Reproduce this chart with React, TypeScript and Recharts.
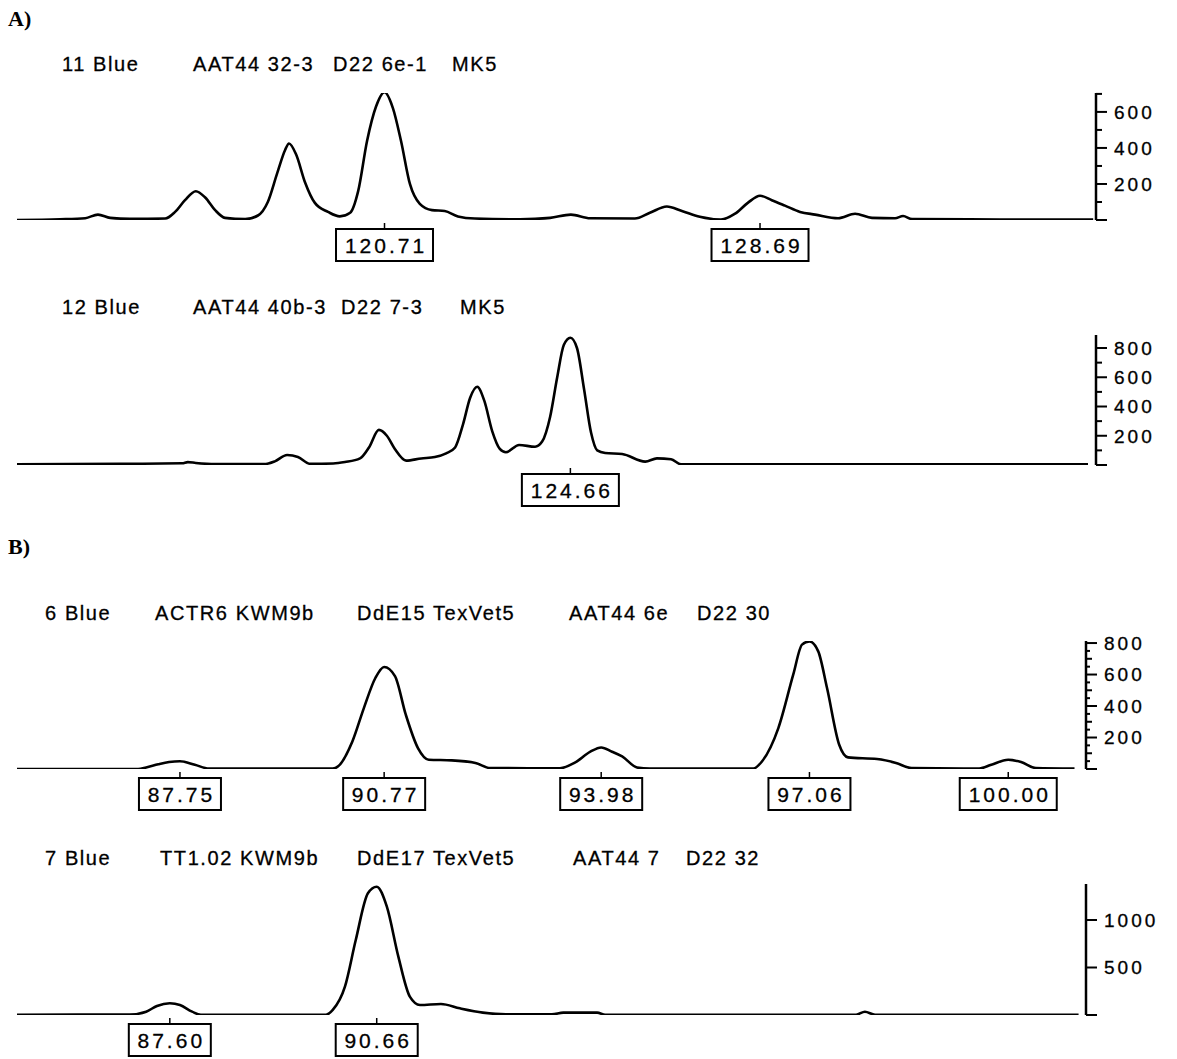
import React from "react";
import { Line, LineChart, XAxis, YAxis } from "recharts";

// ---- lane 11 (panel A, upper trace) ----
const lane11Size = [
  112.9, 113.81, 114.35, 114.62, 114.88, 115.3, 116.05, 116.26, 116.47, 116.7, 116.9, 117.11, 117.32,
  117.75, 118.02, 118.23, 118.43, 118.6, 118.68, 118.83, 119.02, 119.23, 119.51, 119.76, 119.98, 120.15,
  120.34, 120.53, 120.71, 120.89, 121.06, 121.25, 121.46, 121.72, 121.99, 122.27, 122.63, 123.59, 124.23,
  124.67, 125.08, 126.03, 126.35, 126.71, 127.03, 127.41, 127.86, 128.16, 128.43, 128.69, 128.94, 129.22,
  129.54, 129.86, 130.35, 130.71, 131.07, 131.56, 131.73, 131.92, 133.79, 135.77,
];
const lane11Rfu = [
  0, 4, 10, 30, 12, 6, 8, 45, 110, 160, 125, 55, 12,
  5, 25, 100, 260, 390, 425, 365, 210, 95, 45, 20, 40, 160,
  440, 630, 710, 620, 440, 200, 90, 55, 50, 20, 8, 4, 12,
  30, 10, 8, 40, 75, 50, 18, 3, 35, 95, 135, 110, 80,
  45, 30, 10, 35, 12, 10, 22, 5, 3, 3,
];
const lane11Calls = [120.71, 128.69];

// ---- lane 12 (panel A, lower trace) ----
const lane12Size = [
  112.9, 115.09, 116.41, 116.53, 116.7, 117.11, 118.15, 118.38, 118.64, 118.87, 119.13, 119.62, 119.87,
  120.19, 120.38, 120.59, 120.76, 120.93, 121.17, 121.49, 121.78, 122.02, 122.21, 122.38, 122.53, 122.68,
  122.83, 123.0, 123.16, 123.29, 123.57, 123.91, 124.06, 124.23, 124.38, 124.52, 124.66, 124.8, 124.95,
  125.1, 125.23, 125.4, 125.76, 126.25, 126.5, 126.8, 127.01, 135.66,
];
const lane12Rfu = [
  5, 8, 12, 20, 14, 6, 6, 25, 68, 55, 8, 10, 20,
  45, 120, 240, 200, 110, 30, 45, 55, 80, 120, 280, 460, 535,
  440, 230, 110, 87, 137, 125, 160, 330, 600, 820, 870, 800, 520,
  220, 100, 82, 75, 23, 45, 39, 5, 5,
];
const lane12Calls = [124.66];

// ---- lane 6 (panel B, upper trace) ----
const lane6Size = [
  85.34, 87.13, 87.25, 87.43, 87.59, 87.75, 87.97, 88.18, 90.01, 90.09, 90.3, 90.47, 90.64,
  90.77, 90.93, 91.09, 91.27, 91.43, 91.77, 92.12, 92.34, 93.37, 93.59, 93.82, 93.98, 94.14,
  94.29, 94.51, 94.7, 96.23, 96.36, 96.6, 96.82, 96.95, 97.06, 97.19, 97.32, 97.5, 97.63,
  98.06, 98.34, 98.57, 99.57, 99.75, 100.0, 100.19, 100.41, 100.98,
];
const lane6Rfu = [
  0, 0, 10, 30, 44, 49, 27, 3, 3, 17, 175, 387, 578,
  648, 590, 345, 133, 59, 55, 38, 6, 5, 40, 110, 137, 110,
  80, 10, 3, 3, 49, 260, 599, 790, 810, 747, 514, 154, 74,
  63, 38, 6, 3, 27, 59, 44, 6, 3,
];
const lane6Calls = [87.75, 90.77, 93.98, 97.06, 100.0];

// ---- lane 7 (panel B, lower trace) ----
const lane7Size = [
  85.34, 87.01, 87.25, 87.41, 87.6, 87.75, 87.93, 88.06, 89.91, 90.01, 90.19, 90.35, 90.53,
  90.66, 90.81, 90.98, 91.15, 91.3, 91.61, 91.89, 92.23, 92.57, 93.25, 93.42, 93.92, 94.04,
  97.75, 97.88, 98.03, 101.04,
];
const lane7Rfu = [
  3, 5, 35, 95, 123, 105, 35, 3, 3, 53, 298, 789, 1281,
  1350, 1140, 614, 193, 105, 116, 70, 25, 7, 7, 25, 25, 3,
  3, 35, 3, 3,
];
const lane7Calls = [87.6, 90.66];

// size windows and RFU scales
const panelASizeRange: [number, number] = [112.9, 135.83];
const panelBSizeRange: [number, number] = [85.34, 101.15];

const lane11Ticks = [0, 100, 200, 300, 400, 500, 600, 700];
const lane11Labels = [200, 400, 600];
const lane12Ticks = [0, 100, 200, 300, 400, 500, 600, 700, 800];
const lane12Labels = [200, 400, 600, 800];
const lane6Ticks = [0, 50, 100, 150, 200, 250, 300, 350, 400, 450, 500, 550, 600, 650, 700, 750, 800];
const lane6Labels = [200, 400, 600, 800];
const lane7Ticks = [0, 500, 1000];
const lane7Labels = [500, 1000];

const SANS = "'Liberation Sans', Arial, Helvetica, sans-serif";
const SERIF = "'Liberation Serif', 'Times New Roman', serif";

function CallTag(props: any) {
  const { x, y, payload } = props;
  const text = Number(payload.value).toFixed(2);
  const w = text.length * 15 + 7;
  return (
    <g>
      <line x1={x} x2={x} y1={y + 3} y2={y + 9} stroke="#000" strokeWidth={1.5} />
      <rect x={x - w / 2} y={y + 9} width={w} height={32} fill="#fff" stroke="#000" strokeWidth={2} />
      <text
        x={x + 1.5}
        y={y + 33}
        textAnchor="middle"
        fontFamily={SANS}
        fontSize={21}
        letterSpacing={3}
        fill="#000"
        stroke="#000"
        strokeWidth={0.3}
      >
        {text}
      </text>
    </g>
  );
}

function RfuTick(props: any) {
  const { x, y, payload, labels } = props;
  const v = Number(payload.value);
  const labelled = labels.includes(v);
  const len = labelled || v === 0 ? 11 : v % 100 === 0 ? 6 : 4;
  return (
    <g>
      <line x1={x} x2={x + len} y1={y} y2={y} stroke="#000" strokeWidth={2} />
      {labelled && (
        <text
          x={x + 18}
          y={y}
          dy="0.36em"
          fontFamily={SANS}
          fontSize={19}
          letterSpacing={3}
          fill="#000"
          stroke="#000"
          strokeWidth={0.3}
        >
          {v}
        </text>
      )}
    </g>
  );
}

type LaneProps = {
  plotTop: number;
  plotHeight: number;
  axisWidth: number;
  sizes: number[];
  rfu: number[];
  calls: number[];
  sizeRange: [number, number];
  rfuMax: number;
  ticks: number[];
  labels: number[];
};

function Lane({ plotTop, plotHeight, axisWidth, sizes, rfu, calls, sizeRange, rfuMax, ticks, labels }: LaneProps) {
  const rows = sizes.map((s, i) => ({ size: s, rfu: rfu[i] }));
  const padTop = 12;
  const tagRoom = 46;
  return (
    <div style={{ position: "absolute", left: 0, top: plotTop - padTop }}>
      <LineChart
        width={1177}
        height={padTop + plotHeight + tagRoom}
        data={rows}
        margin={{ top: padTop, right: 0, bottom: 0, left: 17 }}
      >
        <XAxis
          dataKey="size"
          type="number"
          domain={sizeRange}
          allowDataOverflow
          ticks={calls}
          interval={0}
          height={tagRoom}
          axisLine={false}
          tickLine={false}
          tickSize={0}
          tickMargin={0}
          tick={(p: any) => <CallTag {...p} />}
        />
        <YAxis
          orientation="right"
          type="number"
          domain={[0, rfuMax]}
          allowDataOverflow
          ticks={ticks}
          interval={0}
          width={axisWidth}
          axisLine={{ stroke: "#000", strokeWidth: 2.5 }}
          tickLine={false}
          tickSize={0}
          tickMargin={0}
          tick={(p: any) => <RfuTick {...p} labels={labels} />}
        />
        <Line
          dataKey="rfu"
          type="monotone"
          stroke="#000"
          strokeWidth={2.6}
          dot={false}
          isAnimationActive={false}
        />
      </LineChart>
    </div>
  );
}

function Heading({ y, parts }: { y: number; parts: [string, number][] }) {
  return (
    <>
      {parts.map(([t, x]) => (
        <text
          key={t + x}
          x={x}
          y={y}
          fontFamily={SANS}
          fontSize={20}
          letterSpacing={1.6}
          fill="#000"
          stroke="#000"
          strokeWidth={0.3}
        >
          {t}
        </text>
      ))}
    </>
  );
}

export default function App() {
  return (
    <div style={{ position: "absolute", left: 0, top: 0, width: 1177, height: 1059, background: "#fff" }}>
      <Lane
        plotTop={93}
        plotHeight={127}
        axisWidth={81}
        sizes={lane11Size}
        rfu={lane11Rfu}
        calls={lane11Calls}
        sizeRange={panelASizeRange}
        rfuMax={705}
        ticks={lane11Ticks}
        labels={lane11Labels}
      />
      <Lane
        plotTop={335}
        plotHeight={130}
        axisWidth={81}
        sizes={lane12Size}
        rfu={lane12Rfu}
        calls={lane12Calls}
        sizeRange={panelASizeRange}
        rfuMax={889}
        ticks={lane12Ticks}
        labels={lane12Labels}
      />
      <Lane
        plotTop={641}
        plotHeight={128}
        axisWidth={91}
        sizes={lane6Size}
        rfu={lane6Rfu}
        calls={lane6Calls}
        sizeRange={panelBSizeRange}
        rfuMax={813}
        ticks={lane6Ticks}
        labels={lane6Labels}
      />
      <Lane
        plotTop={884}
        plotHeight={131}
        axisWidth={91}
        sizes={lane7Size}
        rfu={lane7Rfu}
        calls={lane7Calls}
        sizeRange={panelBSizeRange}
        rfuMax={1379}
        ticks={lane7Ticks}
        labels={lane7Labels}
      />
      <svg
        width={1177}
        height={1059}
        style={{ position: "absolute", left: 0, top: 0, pointerEvents: "none" }}
      >
        <text x={8} y={26} fontFamily={SERIF} fontWeight="bold" fontSize={22}>
          A)
        </text>
        <text x={8} y={554} fontFamily={SERIF} fontWeight="bold" fontSize={22}>
          B)
        </text>
        <Heading y={71} parts={[["11 Blue", 62], ["AAT44 32-3", 193], ["D22 6e-1", 333], ["MK5", 452]]} />
        <Heading y={314} parts={[["12 Blue", 62], ["AAT44 40b-3", 193], ["D22 7-3", 341], ["MK5", 460]]} />
        <Heading
          y={620}
          parts={[["6 Blue", 45], ["ACTR6 KWM9b", 155], ["DdE15 TexVet5", 357], ["AAT44 6e", 569], ["D22 30", 697]]}
        />
        <Heading
          y={865}
          parts={[["7 Blue", 45], ["TT1.02 KWM9b", 160], ["DdE17 TexVet5", 357], ["AAT44 7", 573], ["D22 32", 686]]}
        />
      </svg>
    </div>
  );
}
